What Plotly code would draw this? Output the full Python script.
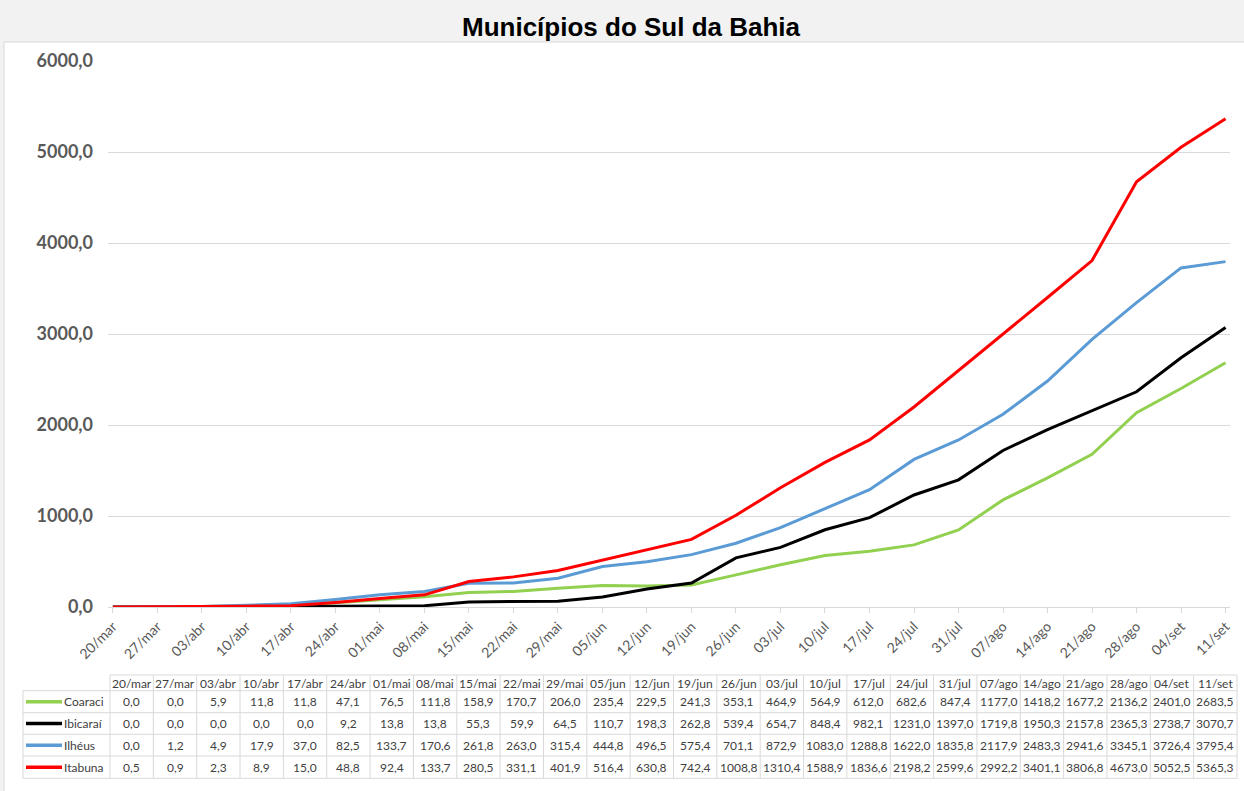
import plotly.graph_objects as go

dates = ["20/mar", "27/mar", "03/abr", "10/abr", "17/abr", "24/abr", "01/mai", "08/mai",
         "15/mai", "22/mai", "29/mai", "05/jun", "12/jun", "19/jun", "26/jun", "03/jul",
         "10/jul", "17/jul", "24/jul", "31/jul", "07/ago", "14/ago", "21/ago", "28/ago",
         "04/set", "11/set"]

coaraci = [0.0, 0.0, 5.9, 11.8, 11.8, 47.1, 76.5, 111.8, 158.9, 170.7, 206.0, 235.4, 229.5,
           241.3, 353.1, 464.9, 564.9, 612.0, 682.6, 847.4, 1177.0, 1418.2, 1677.2, 2136.2,
           2401.0, 2683.5]
ibicarai = [0.0, 0.0, 0.0, 0.0, 0.0, 9.2, 13.8, 13.8, 55.3, 59.9, 64.5, 110.7, 198.3,
            262.8, 539.4, 654.7, 848.4, 982.1, 1231.0, 1397.0, 1719.8, 1950.3, 2157.8,
            2365.3, 2738.7, 3070.7]
ilheus = [0.0, 1.2, 4.9, 17.9, 37.0, 82.5, 133.7, 170.6, 261.8, 263.0, 315.4, 444.8, 496.5,
          575.4, 701.1, 872.9, 1083.0, 1288.8, 1622.0, 1835.8, 2117.9, 2483.3, 2941.6,
          3345.1, 3726.4, 3795.4]
itabuna = [0.5, 0.9, 2.3, 8.9, 15.0, 48.8, 92.4, 133.7, 280.5, 331.1, 401.9, 516.4, 630.8,
           742.4, 1008.8, 1310.4, 1588.9, 1836.6, 2198.2, 2599.6, 2992.2, 3401.1, 3806.8,
           4673.0, 5052.5, 5365.3]

series_names = ["Coaraci", "Ibicaraí", "Ilhéus", "Itabuna"]
series_values = [coaraci, ibicarai, ilheus, itabuna]
series_colors = ["#92d050", "#000000", "#5b9bd5", "#ff0000"]
y_ticks = [0, 1000, 2000, 3000, 4000, 5000, 6000]

# layout geometry (pixels)
FIG_W, FIG_H = 1244, 791
L, R, T, B = 108, 14, 61, 184
PW, PH = FIG_W - L - R, FIG_H - T - B


def px(x):
    return (x - L) / PW


def py(y):
    return (FIG_H - B - y) / PH


fig = go.Figure()
xs = list(range(len(dates)))
for name, vals, col in zip(series_names, series_values, series_colors):
    fig.add_trace(go.Scatter(x=xs, y=vals, mode="lines", name=name,
                             line=dict(color=col, width=3), cliponaxis=False))

shapes = []
annotations = []

# white chart area
shapes.append(dict(type="rect", xref="paper", yref="paper", x0=px(4), x1=px(1250),
                   y0=py(796), y1=py(42), fillcolor="white",
                   line=dict(color="#d9d9d9", width=1), layer="below"))

# title
annotations.append(dict(text="<b>Municípios do Sul da Bahia</b>", xref="paper", yref="paper",
                        x=px(631), y=py(27), showarrow=False, xanchor="center", yanchor="middle",
                        font=dict(family="Liberation Sans, Arial", size=26, color="#000000")))

# data table
grid_col = "#d9d9d9"
txt_col = "#404040"
tfont = dict(family="Lato, Noto Sans", size=12, color=txt_col)
tab_left, first_right, tab_right = 23, 110, 1237
ncol = len(dates)
cw = (tab_right - first_right) / ncol
hdr_top = 675
row_lines = [690.7, 712.7, 734.3, 756.0, 778.3]

for i in range(ncol + 1):
    x = first_right + cw * i
    shapes.append(dict(type="line", xref="paper", yref="paper", x0=px(x), x1=px(x),
                       y0=py(hdr_top), y1=py(row_lines[-1]), line=dict(color=grid_col, width=1)))
shapes.append(dict(type="line", xref="paper", yref="paper", x0=px(tab_left), x1=px(tab_left),
                   y0=py(row_lines[0]), y1=py(row_lines[-1]), line=dict(color=grid_col, width=1)))
shapes.append(dict(type="line", xref="paper", yref="paper", x0=px(first_right), x1=px(tab_right),
                   y0=py(hdr_top), y1=py(hdr_top), line=dict(color=grid_col, width=1)))
for yl in row_lines:
    shapes.append(dict(type="line", xref="paper", yref="paper", x0=px(tab_left), x1=px(tab_right),
                       y0=py(yl), y1=py(yl), line=dict(color=grid_col, width=1)))

# header
for i, d in enumerate(dates):
    cx = first_right + cw * (i + 0.5)
    annotations.append(dict(text=d, xref="paper", yref="paper", x=px(cx), y=py(683),
                            showarrow=False, xanchor="center", yanchor="middle", font=tfont))

# rows
for r, (name, vals, col) in enumerate(zip(series_names, series_values, series_colors)):
    cy = (row_lines[r] + row_lines[r + 1]) / 2
    shapes.append(dict(type="line", xref="paper", yref="paper", x0=px(26), x1=px(62),
                       y0=py(cy), y1=py(cy), line=dict(color=col, width=3.5)))
    annotations.append(dict(text=name, xref="paper", yref="paper", x=px(62), y=py(cy),
                            showarrow=False, xanchor="left", yanchor="middle", font=tfont))
    for i, v in enumerate(vals):
        cx = first_right + cw * (i + 0.5)
        annotations.append(dict(text=f"{v:.1f}".replace(".", ","), xref="paper", yref="paper",
                                x=px(cx), y=py(cy), showarrow=False, xanchor="center",
                                yanchor="middle", font=tfont))

fig.update_layout(
    width=FIG_W, height=FIG_H,
    margin=dict(l=L, r=R, t=T, b=B, autoexpand=False),
    paper_bgcolor="#f2f2f2", plot_bgcolor="rgba(0,0,0,0)",
    showlegend=False, separators=",.",
    shapes=shapes, annotations=annotations,
    xaxis=dict(range=[-0.11, 25.1], tickvals=xs, ticktext=dates, tickangle=-45,
               showgrid=False, zeroline=False, showline=True, linecolor="#d9d9d9", linewidth=1,
               ticks="outside", ticklen=5, tickcolor="#d9d9d9",
               tickfont=dict(family="Lato, Noto Sans", size=14, color="#595959")),
    yaxis=dict(range=[0, 6000], tickvals=y_ticks, tickformat=".1f", showgrid=True,
               gridcolor="#d9d9d9", gridwidth=1, zeroline=False, showline=False,
               ticklabelstandoff=14,
               tickfont=dict(family="Lato, Noto Sans", size=18, color="#595959", weight="bold")),
)

fig.write_html("out.html", config={"displayModeBar": False},
               post_script="document.body.style.margin='0';")
